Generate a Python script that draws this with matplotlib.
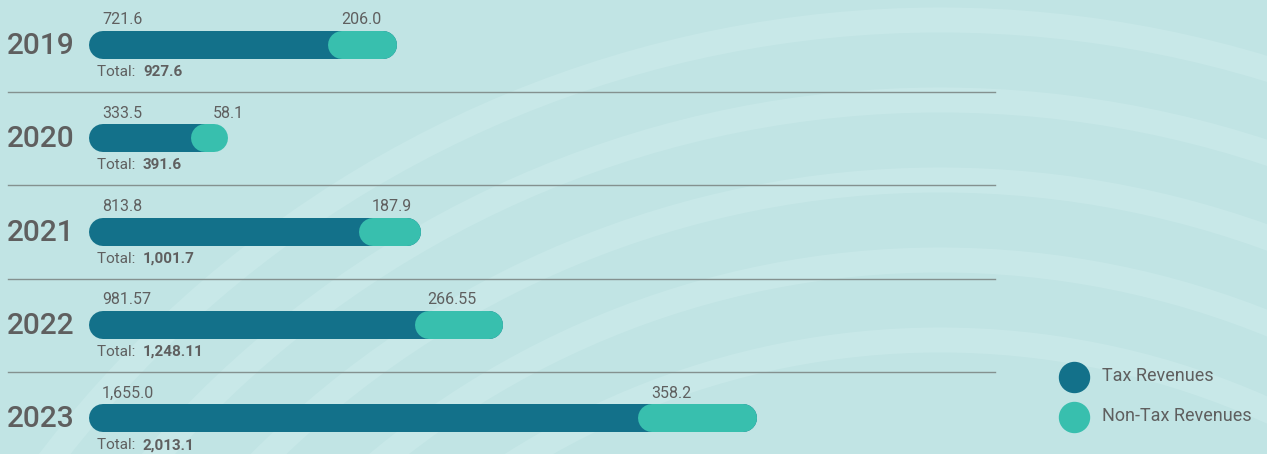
import matplotlib.pyplot as plt
from matplotlib.patches import Ellipse

years = ["2019", "2020", "2021", "2022", "2023"]
tax = [721.6, 333.5, 813.8, 981.57, 1655.0]
non_tax = [206.0, 58.1, 187.9, 266.55, 358.2]
tax_labels = ["721.6", "333.5", "813.8", "981.57", "1,655.0"]
non_tax_labels = ["206.0", "58.1", "187.9", "266.55", "358.2"]
total_labels = ["927.6", "391.6", "1,001.7", "1,248.11", "2,013.1"]
legend_labels = ["Tax Revenues", "Non-Tax Revenues"]

DARK = "#13718a"
LIGHT = "#38bfae"
BG = "#c1e4e4"
TXT = "#5f5f5f"

W, H = 1267, 454
x0_px = 89          # left edge of bars
s = 0.3318          # pixels per unit
bar_h = 28
row_top = 45
row_step = 93.3

plt.rcParams['font.family'] = ['Roboto', 'DejaVu Sans']

fig = plt.figure(figsize=(W / 100, H / 100), dpi=100, facecolor=BG)
ax = fig.add_axes([0, 0, 1, 1])
ax.set_facecolor(BG)
ax.set_xlim(-x0_px / s, (W - x0_px) / s)
ax.set_ylim(H, 0)
ax.axis("off")


def px(x):
    return (x - x0_px) / s


# subtle background arcs (sizes in pixels), lighter bands
for rr in [1120, 1040, 960, 880, 800]:
    ax.add_patch(Ellipse((px(940), 1140), 2 * rr / s, 2 * rr, facecolor="none",
                         edgecolor="#cbeaea", lw=18, alpha=0.7, zorder=0))

lw_pt = bar_h * 72 / 100
r = (bar_h / 2) / s

for i, yr in enumerate(years):
    yc = row_top + i * row_step
    total = tax[i] + non_tax[i]
    ax.plot([r, total - r], [yc, yc], color=DARK, lw=lw_pt, solid_capstyle="round", zorder=2)
    ax.plot([tax[i] + r, total - r], [yc, yc], color=LIGHT, lw=lw_pt, solid_capstyle="round", zorder=3)

    ax.text(px(7), yc + 1, yr, fontsize=21.5, fontweight="medium", color=TXT,
            ha="left", va="center")
    ax.text(px(102), yc - 25, tax_labels[i], fontsize=11.5, color=TXT, ha="left", va="center")
    ax.text(tax[i] + 13 / s, yc - 25, non_tax_labels[i], fontsize=11.5, color=TXT,
            ha="left", va="center")
    t = ax.text(px(97), yc + 27, "Total:  ", fontsize=11, color=TXT, ha="left", va="center")
    ax.annotate(total_labels[i], xycoords=t, xy=(1, 0.5), va="center", ha="left",
                fontsize=11, fontweight="bold", color=TXT)

    if i < len(years) - 1:
        ax.plot([px(8), px(995)], [yc + 47, yc + 47], color="#84918f", lw=1.0, zorder=1)

for j, (lab, col) in enumerate(zip(legend_labels, [DARK, LIGHT])):
    ly = 377 + j * 40
    ax.scatter([px(1074)], [ly], s=(15 * 2 * 72 / 100) ** 2, color=col, zorder=4)
    ax.text(px(1102), ly - 1, lab, fontsize=13, color=TXT, ha="left", va="center")

fig.savefig("out.png", dpi=100, facecolor=BG)
